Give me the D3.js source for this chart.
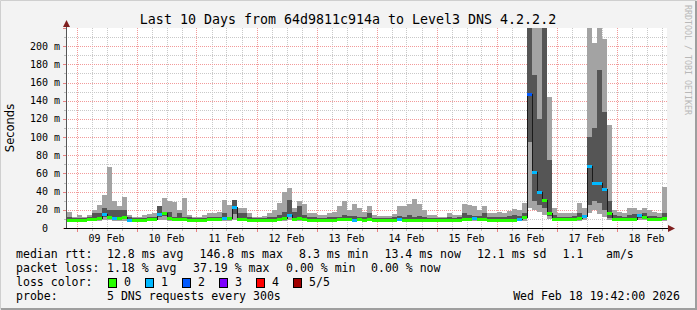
<!DOCTYPE html>
<html>
<head>
<meta charset="utf-8">
<title>smokeping 10 days</title>
<script src="https://cdn.jsdelivr.net/npm/d3@7"></script>
<style>
  body{margin:0;background:#f3f3f3;}
  svg text{font-family:"DejaVu Sans Mono",monospace;fill:#000;white-space:pre;}
</style>
</head>
<body>
<div id="chart"></div>
<script>
// 2-hour buckets from Feb 8 20:12 to Feb 18 20:12 (ms)
var hi = [18,12,14,12,14,20,25,36,67,30, 24,34,14,12,12,14,15,17,22,33,
          30,29,20,33,14,12,12,14,17,17, 18,31,25,28,22,22,17,12,12,13,
          17,20,28,40,44,22,30,26,17,16, 14,14,16,18,24,30,20,26,22,18,
          24,14,13,13,13,15,24,24,26,32, 26,20,14,14,12,12,16,14,14,26,
          25,24,20,24,17,17,18,17,19,21, 20,28,300,300,300,300,144,22,16,16,
          17,17,28,22,300,203,300,208,113,20, 18,17,22,22,20,22,20,18,17,45];
var p4 = [12,11,11,11,12,16,16,22,20,20, 20,20,12,11,11,11,12,12,24,18,
          18,12,17,12,12,11,11,11,12,12, 12,16,12,31,17,17,12,11,11,11,
          12,12,14,18,31,18,24,14,12,12, 11,11,12,12,12,14,13,13,12,12,
          17,11,11,11,11,12,13,12,14,12, 13,12,11,11,11,11,12,11,12,17,
          14,13,13,16,12,12,12,12,13,14, 13,16,300,168,120,230,75,14,12,12,
          12,13,16,14,100,110,174,128,30,14, 13,12,14,15,14,17,13,13,12,17];
var med = [9,9,9,9,10,10,11,15,12,11, 11,12,9,9,9,9,10,10,15,17,
           11,10,10,10,9,9,9,9,10,10, 10,11,11,23,10,10,9,9,9,9,
           9,9,10,11,14,10,11,10,9,9, 9,9,9,9,10,10,10,9,10,9,
           10,9,9,9,9,9,10,9,9,9, 9,9,9,9,9,9,9,9,9,10,
           10,11,10,10,9,9,9,9,9,9, 10,12,147,62,40,31,16,10,10,10,
           10,10,11,13,68,49,49,43,17,10, 10,10,10,10,14,12,10,10,10,11];
var p2 = [8,8,8,8,9,9,10,12,11,10, 10,10,8,8,8,8,9,9,12,13,
          10,9,9,9,8,8,8,8,9,9, 9,10,10,15,9,9,8,8,8,8,
          8,8,9,10,12,9,10,9,8,8, 8,8,8,8,9,9,9,8,9,8,
          9,8,8,8,8,8,9,8,8,8, 8,8,8,8,8,8,8,8,8,9,
          9,10,9,9,8,8,8,8,8,8, 9,10,95,30,25,22,13,9,9,9,
          9,9,10,11,25,30,28,20,11,9, 9,9,9,9,11,10,9,9,9,10];
var lo = [7,7,7,7,8,8,8,9,9,8, 8,8,7,7,7,7,8,8,9,9,
          8,8,8,8,7,7,7,7,8,8, 8,8,8,9,8,8,7,7,7,7,
          7,7,8,8,9,8,8,8,7,7, 7,7,7,7,8,8,8,7,8,7,
          8,7,7,7,7,7,8,7,7,7, 7,7,7,7,7,7,7,7,7,8,
          8,8,8,8,7,7,7,7,7,7, 8,8,22,20,18,14,10,8,8,8,
          8,8,8,9,16,20,15,12,9,8, 8,8,8,8,9,9,8,8,8,8];
var loss = [0,0,0,0,0,0,0,1,0,1, 0,0,1,0,0,0,0,0,1,0,
            0,0,0,0,0,0,0,0,0,0, 0,1,0,1,0,0,0,0,0,0,
            0,0,0,0,1,0,0,0,0,0, 0,0,0,0,0,0,0,1,0,0,
            0,0,0,0,0,0,1,0,0,0, 0,0,0,0,0,0,0,0,0,0,
            0,1,0,0,0,0,0,0,0,0, 1,0,2,1,1,0,0,0,0,0,
            0,0,0,1,1,1,1,1,0,0, 0,0,0,0,1,0,0,0,0,0];

var lossLabels = ["0","1","2","3","4","5/5"];
var lossColors = ["#26ff00","#00b8ff","#0059ff","#7e00ff","#ff0000","#a10000"];
var yTicks = [0,20,40,60,80,100,120,140,160,180,200];

var title = "Last 10 Days from 64d9811c914a to Level3 DNS 4.2.2.2";
var rttRow = [["median rtt:",16],["12.8 ms avg",107],["146.8 ms max",199.5],["8.3 ms min",299],
              ["13.4 ms now",384.5],["12.1 ms sd",477],["1.1",562.5],["am/s",606]];
var lossRow = [["packet loss:",16],["1.18 % avg",107],["37.19 % max",193],["0.00 % min",286],["0.00 % now",371]];
var probeText = "5 DNS requests every 300s";
var stamp = "Wed Feb 18 19:42:00 2026";

var W = 697, H = 310;
var t0 = Date.UTC(2026,1,8,20,12), step = 2*3600*1000;

var svg = d3.select("#chart").append("svg")
    .attr("width", W).attr("height", H);

var x = d3.scaleUtc().domain([new Date(t0), new Date(t0 + hi.length*step)]).range([67,667]);
var y = d3.scaleLinear().domain([0,220]).range([228,28]);

var defs = svg.append("defs");
function dots(id, w, h, col){
  defs.append("pattern").attr("id",id).attr("patternUnits","userSpaceOnUse")
    .attr("width",w).attr("height",h)
    .append("rect").attr("width",1).attr("height",1).attr("fill",col);
}
dots("vmin",1,2,"#c9c9c9"); dots("hmin",2,1,"#c9c9c9");
dots("vmaj",1,2,"#f29a9a"); dots("hmaj",2,1,"#f29a9a");
defs.append("clipPath").attr("id","clip")
  .append("rect").attr("x",67).attr("y",28).attr("width",600).attr("height",200);

// frame
svg.append("rect").attr("width",W).attr("height",H).attr("fill","#f3f3f3");
svg.append("path").attr("d","M0.5,"+(H-0.5)+"V0.5H"+(W-0.5)).attr("stroke","#cfcfcf").attr("fill","none");
svg.append("path").attr("d","M1,"+(H-1)+"H"+(W-1)+"V1").attr("stroke","#9e9e9e").attr("stroke-width",2).attr("fill","none");

svg.append("rect").attr("x",67).attr("y",28).attr("width",600).attr("height",200).attr("fill","#fff");

var grid = svg.append("g").attr("shape-rendering","crispEdges");
var hour6 = x.ticks(d3.utcHour.every(6)).filter(d=>d.getUTCHours()!==0);
var days = x.ticks(d3.utcDay.every(1));
grid.selectAll(null).data(hour6).enter().append("rect")
  .attr("x",d=>Math.round(x(d))).attr("y",28).attr("width",1).attr("height",200).attr("fill","url(#vmin)");
grid.selectAll(null).data(d3.range(10,221,20)).enter().append("rect")
  .attr("x",67).attr("y",d=>Math.round(y(d))).attr("width",600).attr("height",1).attr("fill","url(#hmin)");
grid.selectAll(null).data(days).enter().append("rect")
  .attr("x",d=>Math.round(x(d))).attr("y",28).attr("width",1).attr("height",200).attr("fill","url(#vmaj)");
grid.selectAll(null).data(yTicks.slice(1)).enter().append("rect")
  .attr("x",67).attr("y",d=>Math.round(y(d))).attr("width",600).attr("height",1).attr("fill","url(#hmaj)");

var plot = svg.append("g").attr("clip-path","url(#clip)").attr("shape-rendering","crispEdges");
var idx = d3.range(hi.length);
var bx0 = i => Math.round(x(new Date(t0 + i*step)));
var bx1 = i => Math.round(x(new Date(t0 + (i+1)*step)));

// outer smoke (min..max)
plot.selectAll(null).data(idx).enter().append("rect")
  .attr("x",bx0).attr("width",i=>bx1(i)-bx0(i))
  .attr("y",i=>Math.round(y(hi[i]))).attr("height",i=>Math.round(y(lo[i]))-Math.round(y(hi[i])))
  .attr("fill","#a3a3a3");
// inner smoke
plot.selectAll(null).data(idx).enter().append("rect")
  .attr("x",bx0).attr("width",i=>bx1(i)-bx0(i))
  .attr("y",i=>Math.round(y(p4[i]))).attr("height",i=>Math.round(y(p2[i]))-Math.round(y(p4[i])))
  .attr("fill","#555555");

// thin median step line
var pts = [];
idx.forEach(function(i){ pts.push([bx0(i),Math.round(y(med[i]))+0.5]); pts.push([bx1(i),Math.round(y(med[i]))+0.5]); });
plot.append("path").attr("d",d3.line()(pts)).attr("fill","none").attr("stroke","#1a1a1a").attr("stroke-width",1);

// median coloured by loss
plot.selectAll(null).data(idx).enter().append("rect")
  .attr("x",bx0).attr("width",i=>bx1(i)-bx0(i))
  .attr("y",i=>Math.round(y(med[i]))-1).attr("height",3)
  .attr("fill",i=>lossColors[loss[i]]);

// axes
var ax = svg.append("g").attr("shape-rendering","crispEdges");
ax.selectAll(null).data(d3.range(0,221,10)).enter().append("rect")
  .attr("x",d=>d%20===0?63:64).attr("width",d=>d%20===0?3:2).attr("y",d=>Math.round(y(d))).attr("height",1)
  .attr("fill",d=>d%20===0?"#e88080":"#bbbbbb");
ax.selectAll(null).data(x.ticks(d3.utcHour.every(6))).enter().append("rect")
  .attr("x",d=>Math.round(x(d))).attr("width",1).attr("y",229).attr("height",d=>d.getUTCHours()===0?3:2)
  .attr("fill",d=>d.getUTCHours()===0?"#e88080":"#bbbbbb");
ax.append("rect").attr("x",66).attr("y",24).attr("width",1).attr("height",205).attr("fill","#555");
ax.append("rect").attr("x",64).attr("y",228).attr("width",605).attr("height",1).attr("fill","#000");
svg.append("path").attr("d","M63,27L66.5,20L70,27Z").attr("fill","#801f1f");
svg.append("path").attr("d","M668,225L675,228.5L668,232Z").attr("fill","#801f1f");

// y labels
svg.selectAll(null).data(yTicks).enter().append("text")
  .attr("x",d=>d===0?48:60).attr("y",d=>y(d)+3.5).attr("text-anchor","end")
  .style("font-size","10px").text(d=>d===0?"0":d+" m");
// x labels at midday
svg.selectAll(null).data(days).enter().append("text")
  .attr("x",d=>x(d3.utcHour.offset(d,12))).attr("y",241.5).attr("text-anchor","middle")
  .style("font-size","10px").text(d=>d3.utcFormat("%d %b")(d));

svg.append("text").attr("x",348).attr("y",24).attr("text-anchor","middle")
  .style("font-size","13.3px").text(title);
svg.append("text").attr("transform","translate(14,128) rotate(-90)").attr("text-anchor","middle")
  .style("font-family","'DejaVu Sans',sans-serif").style("font-size","11.5px").text("Seconds");
svg.append("text").attr("transform","translate(685,5) rotate(90)")
  .style("font-size","8.3px").style("fill","#b8b8b8").text("RRDTOOL / TOBI OETIKER");

// legend
var lf = "11.55px";
rttRow.forEach(function(r){ svg.append("text").attr("x",r[1]).attr("y",258).style("font-size",lf).text(r[0]); });
lossRow.forEach(function(r){ svg.append("text").attr("x",r[1]).attr("y",272).style("font-size",lf).text(r[0]); });
svg.append("text").attr("x",16).attr("y",286).style("font-size",lf).text("loss color:");
lossLabels.forEach(function(l,k){
  var bx = 108 + k*37;
  svg.append("rect").attr("x",bx+0.5).attr("y",278.5).attr("width",8).attr("height",9)
    .attr("fill",lossColors[k]).attr("stroke","#000");
  svg.append("text").attr("x",bx+16).attr("y",286).style("font-size",lf).text(l);
});
svg.append("text").attr("x",16).attr("y",300).style("font-size",lf).text("probe:");
svg.append("text").attr("x",107).attr("y",300).style("font-size",lf).text(probeText);
svg.append("text").attr("x",680).attr("y",300).attr("text-anchor","end").style("font-size",lf).text(stamp);
</script>
</body>
</html>
